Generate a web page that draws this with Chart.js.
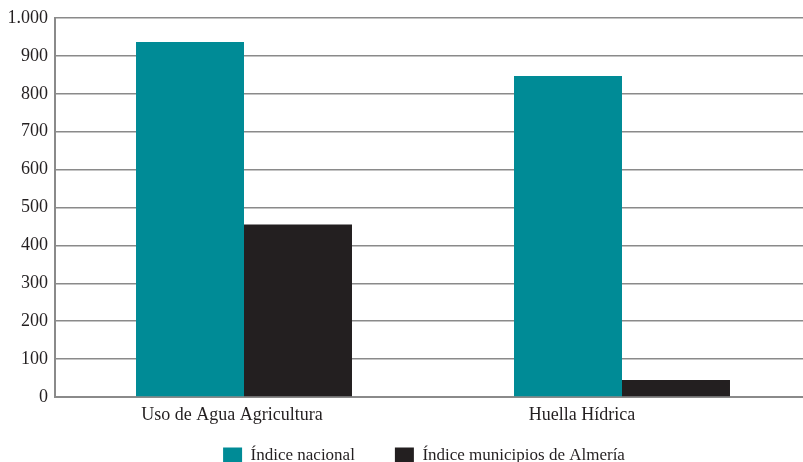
<!DOCTYPE html>
<html lang="es">
<head>
<meta charset="utf-8">
<title>Uso de agua</title>
<script src="https://cdn.jsdelivr.net/npm/chart.js@4.4.1/dist/chart.umd.min.js"></script>
<style>
  html, body { margin: 0; padding: 0; background: #fff; overflow: hidden; }
  #wrap { width: 811px; height: 474px; position: relative; }
</style>
</head>
<body>
<div id="wrap"><canvas id="grafico"></canvas></div>
<script>
// categorías y series
const categorias = ["Uso de Agua Agricultura", "Huella Hídrica"];
const indiceNacional = [937, 847];
const indiceAlmeria = [455, 45];
const ticksY = [0, 100, 200, 300, 400, 500, 600, 700, 800, 900, 1000];

const fuente = "'Liberation Serif', 'Times New Roman', serif";
const tinta = "#231F20";
const gris = "#8a8a8a";

// desplazamiento horizontal de cada rótulo de categoría y de la leyenda
const desplazaRotulo = [-12, -40];
const desplazaLeyenda = -9;

function miles(v) {
  return String(v).replace(/\B(?=(\d{3})+(?!\d))/g, ".");
}

const rotulosX = {
  id: "rotulosX",
  afterLayout(chart) {
    chart.legend.left += desplazaLeyenda;
    chart.legend.right += desplazaLeyenda;
  },
  afterDraw(chart) {
    const ctx = chart.ctx;
    const x = chart.scales.x;
    ctx.save();
    ctx.font = "18px " + fuente;
    ctx.fillStyle = tinta;
    ctx.textAlign = "center";
    ctx.textBaseline = "middle";
    categorias.forEach(function (c, i) {
      ctx.fillText(c, x.getPixelForValue(i) + desplazaRotulo[i], chart.chartArea.bottom + 18);
    });
    ctx.restore();
  }
};

new Chart(document.getElementById("grafico"), {
  type: "bar",
  data: {
    labels: categorias,
    datasets: [
      {
        label: "Índice nacional",
        data: indiceNacional,
        backgroundColor: "#008B96",
        borderWidth: 0
      },
      {
        label: "Índice municipios de Almería",
        data: indiceAlmeria,
        backgroundColor: tinta,
        borderWidth: 0
      }
    ]
  },
  options: {
    responsive: true,
    maintainAspectRatio: false,
    animation: false,
    layout: { padding: { left: 0, top: 18, right: 0, bottom: 0 } },
    datasets: {
      bar: { categoryPercentage: 0.5714, barPercentage: 1 }
    },
    scales: {
      x: {
        grid: { display: false, drawTicks: false },
        border: { display: true, color: gris, width: 2 },
        ticks: { display: false },
        afterFit(s) { s.height = 10; }
      },
      y: {
        min: 0,
        max: 1000,
        afterBuildTicks(s) { s.ticks = ticksY.map(v => ({ value: v })); },
        grid: { color: gris, lineWidth: 1.5, drawTicks: false },
        border: { display: true, color: gris, width: 2 },
        ticks: {
          padding: 7,
          color: tinta,
          font: { family: fuente, size: 18 },
          callback: v => miles(v)
        },
        afterFit(s) { s.width = 55; }
      }
    },
    plugins: {
      tooltip: { enabled: false },
      legend: {
        position: "bottom",
        fullSize: false,
        labels: {
          boxWidth: 19,
          boxHeight: 16,
          padding: 40,
          color: tinta,
          font: { family: fuente, size: 17 }
        }
      }
    }
  },
  plugins: [rotulosX]
});
</script>
</body>
</html>
